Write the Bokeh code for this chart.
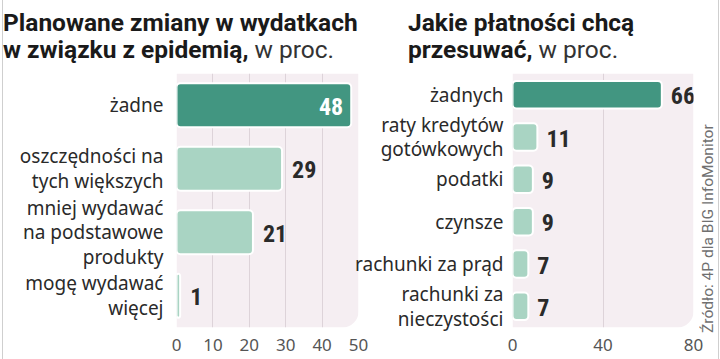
from bokeh.plotting import figure
from bokeh.models import (ColumnDataSource, LabelSet, BoxAnnotation, FactorRange, Range1d,
                          FixedTicker, Div)
from bokeh.layouts import row, column
from bokeh.core.properties import value
from bokeh.embed import file_html
from bokeh.resources import INLINE

# ---- data ----
left_title_bold = "Planowane zmiany w wydatkach<br>w związku z epidemią,"
right_title_bold = "Jakie płatności chcą<br>przesuwać,"
unit_text = "w proc."
source_text = "Źródło: 4P dla BIG InfoMonitor"

left_categories = ["żadne", "oszczędności na\ntych większych",
                   "mniej wydawać\nna podstawowe\nprodukty", "mogę wydawać\nwięcej"]
left_values = [48, 29, 21, 1]
left_ticks = [0, 10, 20, 30, 40, 50]

right_categories = ["żadnych", "raty kredytów\ngotówkowych", "podatki", "czynsze",
                    "rachunki za prąd", "rachunki za\nnieczystości"]
right_values = [66, 11, 9, 9, 7, 7]
right_ticks = [0, 40, 80]

# ---- styles ----
DARK = "#429681"
LIGHT = "#a9d4c3"
BG = "#f5eef2"
GRID = "#ddd3d9"
TXT = "#2a2a2a"
CAT_FONT = "Noto Sans"
VAL_FONT = value("Liberation Sans Narrow, Roboto Condensed, DejaVu Sans Condensed, sans-serif")
FIG_H = 286


def panel(cats, vals, ticks, width, left_border, right_border, bar_h, val_off, cat_off):
    p = figure(width=width, height=FIG_H, output_backend="svg", toolbar_location=None,
               y_range=FactorRange(factors=list(reversed(cats))),
               x_range=Range1d(0, ticks[-1]),
               min_border_left=left_border, min_border_right=right_border,
               min_border_top=0, min_border_bottom=32, title=None)
    p.outline_line_color = None
    p.background_fill_color = "white"
    p.border_fill_alpha = 0
    p.add_layout(BoxAnnotation(left=0, right=ticks[-1], fill_color=BG, fill_alpha=1,
                               line_color=None, level="image",
                               border_radius=dict(top_left=0, top_right=0,
                                                  bottom_right=16, bottom_left=0)))
    p.xgrid.ticker = FixedTicker(ticks=ticks)
    p.xgrid.grid_line_color = GRID
    p.xgrid.grid_line_width = 1
    p.ygrid.grid_line_color = None
    ax = p.xaxis[0]
    ax.ticker = FixedTicker(ticks=ticks)
    ax.axis_line_color = None
    ax.major_tick_line_color = None
    ax.minor_tick_line_color = None
    ax.major_label_text_font = CAT_FONT
    ax.major_label_text_font_size = "17px"
    ax.major_label_text_color = "#555555"
    ax.major_label_standoff = 5
    ay = p.yaxis[0]
    ay.axis_line_color = None
    ay.major_tick_line_color = None
    ay.major_tick_out = 0
    ay.major_label_standoff = cat_off
    ay.major_label_text_font = CAT_FONT
    ay.major_label_text_font_size = "19px"
    ay.major_label_text_line_height = 0.95
    ay.major_label_text_color = TXT

    first_inside = vals[0] / ticks[-1] > 0.85
    colors = [DARK] + [LIGHT] * (len(vals) - 1)
    tcol = ["white" if (i == 0 and first_inside) else TXT for i in range(len(vals))]
    talign = ["right" if (i == 0 and first_inside) else "left" for i in range(len(vals))]
    toff = [-8 if (i == 0 and first_inside) else val_off for i in range(len(vals))]
    src = ColumnDataSource(dict(cat=cats, val=vals, lab=[str(v) for v in vals],
                                color=colors, tcol=tcol, talign=talign, toff=toff))
    p.hbar(y="cat", right="val", left=0, height=bar_h, source=src, fill_color="color",
           line_color="white", line_width=2, border_radius=4)
    p.add_layout(LabelSet(x="val", y="cat", text="lab", source=src, x_offset="toff",
                          y_offset=-1, text_align="talign", text_baseline="middle",
                          text_color="tcol", text_font=VAL_FONT, text_font_style="bold",
                          text_font_size="24px"))
    return p


p1 = panel(left_categories, left_values, left_ticks, 376, 176, 18, 0.69, 10, 13)
p2 = panel(right_categories, right_values, right_ticks, 352, 160, 11, 0.65, 9, 9)
p2.styles = {"margin-left": "-24px"}

TITLE_CSS = ("font-family:Roboto;font-size:24.5px;line-height:27px;color:#1a1a1a;"
             "padding-top:9px;white-space:nowrap;")


def title_div(text_bold, pad_left, width):
    html = (f'<div style="{TITLE_CSS}margin-left:{pad_left}px">'
            f'<b>{text_bold}</b> <span style="font-weight:400;color:#333">{unit_text}</span></div>')
    return Div(text=html, width=width, height=73, margin=0)


t1 = title_div(left_title_bold, 3, 360)
t2 = title_div(right_title_bold, 48, 360)

src_div = Div(text=('<div style="writing-mode:vertical-rl;transform:rotate(180deg);'
                    'height:258px;margin-top:2px;margin-left:-6px;font-family:Roboto;'
                    'font-size:15.5px;line-height:20px;color:#707070;white-space:nowrap">'
                    f'{source_text}</div>'),
              width=16, height=FIG_H, margin=0)

layout = column(row(t1, t2, spacing=0), row(p1, p2, src_div, spacing=0), spacing=0,
                styles={"box-shadow": "inset 2px 0 #fff, inset 3px 0 #cfcfcf, "
                                      "inset -1px 0 #fff, inset -2px 0 #cfcfcf"})
open("out.html", "w").write(file_html(layout, INLINE))
